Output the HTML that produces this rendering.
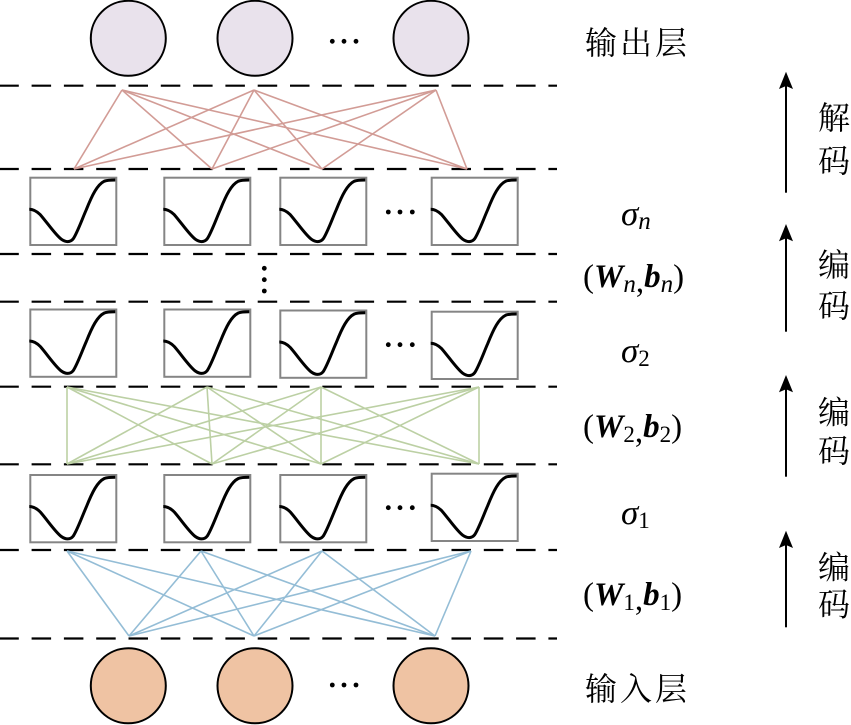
<!DOCTYPE html>
<html>
<head>
<meta charset="utf-8">
<style>
  html, body { margin: 0; padding: 0; background: #ffffff; }
  svg { display: block; }
  .m { font-family: "Liberation Serif", "Noto Serif CJK SC", serif; font-size: 33px; fill: #000; }
  .bi { font-weight: bold; font-style: italic; }
  .i { font-style: italic; }
  .cj { font-family: "Liberation Serif", "Noto Serif CJK SC", serif; font-size: 32px; fill: #000; }
</style>
</head>
<body>
<svg width="851" height="725" viewBox="0 0 851 725" xmlns="http://www.w3.org/2000/svg">
  <rect x="0" y="0" width="851" height="725" fill="#ffffff"/>

  <!-- dashed separators -->
  <g stroke="#000" stroke-width="2.2" stroke-dasharray="19.5 12.8" stroke-dashoffset="0.7" fill="none">
    <line x1="0" y1="85.7" x2="557" y2="85.7"/>
    <line x1="0" y1="169" x2="557" y2="169"/>
    <line x1="0" y1="254" x2="557" y2="254"/>
    <line x1="0" y1="301.7" x2="557" y2="301.7"/>
    <line x1="0" y1="386.7" x2="557" y2="386.7"/>
    <line x1="0" y1="464.3" x2="557" y2="464.3"/>
    <line x1="0" y1="550" x2="557" y2="550"/>
    <line x1="0" y1="638.5" x2="557" y2="638.5"/>
  </g>

  <!-- output circles -->
  <g fill="#e9e2ec" stroke="#000" stroke-width="2">
    <circle cx="128.3" cy="38.3" r="37.5"/>
    <circle cx="255" cy="38.3" r="37.5"/>
    <circle cx="431" cy="38.3" r="37.5"/>
  </g>
  <g fill="#000">
    <circle cx="332.3" cy="41.3" r="2.4"/>
    <circle cx="344" cy="41.3" r="2.4"/>
    <circle cx="356" cy="41.3" r="2.4"/>
  </g>

  <!-- input circles -->
  <g fill="#efc3a3" stroke="#000" stroke-width="2">
    <circle cx="128.3" cy="685.8" r="37.5"/>
    <circle cx="255" cy="685.8" r="37.5"/>
    <circle cx="431" cy="685.8" r="37.5"/>
  </g>
  <g fill="#000">
    <circle cx="332.3" cy="685" r="2.4"/>
    <circle cx="344" cy="685" r="2.4"/>
    <circle cx="356" cy="685" r="2.4"/>
  </g>

  <!-- red (decoder) connections -->
  <g stroke="#d29c96" stroke-width="1.6" fill="none">
    <line x1="122" y1="90" x2="74" y2="169"/>
    <line x1="122" y1="90" x2="212" y2="169"/>
    <line x1="122" y1="90" x2="322" y2="169"/>
    <line x1="122" y1="90" x2="467" y2="169"/>
    <line x1="254" y1="90" x2="74" y2="169"/>
    <line x1="254" y1="90" x2="212" y2="169"/>
    <line x1="254" y1="90" x2="322" y2="169"/>
    <line x1="254" y1="90" x2="467" y2="169"/>
    <line x1="436" y1="90" x2="74" y2="169"/>
    <line x1="436" y1="90" x2="212" y2="169"/>
    <line x1="436" y1="90" x2="322" y2="169"/>
    <line x1="436" y1="90" x2="467" y2="169"/>
  </g>

  <!-- green connections -->
  <g stroke="#bcd0a4" stroke-width="1.6" fill="none">
    <line x1="67" y1="387" x2="67" y2="464"/>
    <line x1="67" y1="387" x2="212" y2="464"/>
    <line x1="67" y1="387" x2="321" y2="464"/>
    <line x1="67" y1="387" x2="479" y2="464"/>
    <line x1="207" y1="387" x2="67" y2="464"/>
    <line x1="207" y1="387" x2="212" y2="464"/>
    <line x1="207" y1="387" x2="321" y2="464"/>
    <line x1="207" y1="387" x2="479" y2="464"/>
    <line x1="321" y1="387" x2="67" y2="464"/>
    <line x1="321" y1="387" x2="212" y2="464"/>
    <line x1="321" y1="387" x2="321" y2="464"/>
    <line x1="321" y1="387" x2="479" y2="464"/>
    <line x1="479" y1="387" x2="67" y2="464"/>
    <line x1="479" y1="387" x2="212" y2="464"/>
    <line x1="479" y1="387" x2="321" y2="464"/>
    <line x1="479" y1="387" x2="479" y2="464"/>
  </g>

  <!-- blue connections -->
  <g stroke="#94bdd6" stroke-width="1.6" fill="none">
    <line x1="67" y1="551" x2="129" y2="636"/>
    <line x1="67" y1="551" x2="254" y2="636"/>
    <line x1="67" y1="551" x2="435" y2="636"/>
    <line x1="201" y1="551" x2="129" y2="636"/>
    <line x1="201" y1="551" x2="254" y2="636"/>
    <line x1="201" y1="551" x2="435" y2="636"/>
    <line x1="322" y1="551" x2="129" y2="636"/>
    <line x1="322" y1="551" x2="254" y2="636"/>
    <line x1="322" y1="551" x2="435" y2="636"/>
    <line x1="471" y1="551" x2="129" y2="636"/>
    <line x1="471" y1="551" x2="254" y2="636"/>
    <line x1="471" y1="551" x2="435" y2="636"/>
  </g>

  <!-- activation boxes -->
  <defs>
    <g id="act">
      <rect x="1" y="1" width="86" height="67.3" fill="#fff" stroke="#858585" stroke-width="2"/>
      <path d="M0,32.5 C4,32.5 7,34 11,38 C18,46 26,58 32,62.5 C36,65.5 41,66 44,62 C48,56 53,42 57,33 C63,18 68,8 75,4.5 C78,3.3 81,3.3 86,3.3" fill="none" stroke="#000" stroke-width="3"/>
    </g>
  </defs>
  <!-- row 1 -->
  <use href="#act" x="29.3" y="176.7"/>
  <use href="#act" x="163.3" y="176.7"/>
  <use href="#act" x="279.3" y="176.7"/>
  <use href="#act" x="430.7" y="176.7"/>
  <!-- row 2 -->
  <use href="#act" x="29.3" y="308.5"/>
  <use href="#act" x="163.3" y="308.5"/>
  <use href="#act" x="279.3" y="309.5"/>
  <use href="#act" x="430.7" y="310.7"/>
  <!-- row 3 -->
  <use href="#act" x="29.3" y="474"/>
  <use href="#act" x="163.3" y="474"/>
  <use href="#act" x="279.3" y="474"/>
  <use href="#act" x="430.7" y="472.7"/>

  <!-- row ellipses -->
  <g fill="#000">
    <circle cx="388.3" cy="212" r="2.4"/><circle cx="400" cy="212" r="2.4"/><circle cx="412.3" cy="212" r="2.4"/>
    <circle cx="388.3" cy="344.7" r="2.4"/><circle cx="400" cy="344.7" r="2.4"/><circle cx="412.3" cy="344.7" r="2.4"/>
    <circle cx="388.3" cy="507.7" r="2.4"/><circle cx="400" cy="507.7" r="2.4"/><circle cx="412.3" cy="507.7" r="2.4"/>
    <!-- vertical dots -->
    <circle cx="264.3" cy="268.3" r="2.4"/><circle cx="264.3" cy="279.7" r="2.4"/><circle cx="264.3" cy="291" r="2.4"/>
  </g>

  <!-- layer labels -->
  <text class="cj" x="585" y="54" textLength="102" lengthAdjust="spacing">输出层</text>
  <text class="cj" x="585" y="700" textLength="102" lengthAdjust="spacing">输入层</text>

  <!-- math labels -->
  <text class="m" x="621" y="225" style="font-size:35px"><tspan class="i">σ</tspan><tspan class="i" font-size="25" dy="4">n</tspan></text>
  <text class="m" x="583" y="287">(<tspan class="bi">W</tspan><tspan class="i" font-size="25" dy="5">n</tspan>,<tspan class="bi" dy="-5">b</tspan><tspan class="i" font-size="25" dy="5">n</tspan><tspan dy="-5">)</tspan></text>

  <text class="m" x="621" y="362" style="font-size:35px"><tspan class="i">σ</tspan><tspan font-size="23" dy="4">2</tspan></text>
  <text class="m" x="583" y="437">(<tspan class="bi">W</tspan><tspan font-size="23" dy="5">2</tspan>,<tspan class="bi" dy="-5">b</tspan><tspan font-size="23" dy="5">2</tspan><tspan dy="-5">)</tspan></text>

  <text class="m" x="621" y="524" style="font-size:35px"><tspan class="i">σ</tspan><tspan font-size="23" dy="4">1</tspan></text>
  <text class="m" x="583" y="605">(<tspan class="bi">W</tspan><tspan font-size="23" dy="5">1</tspan>,<tspan class="bi" dy="-5">b</tspan><tspan font-size="23" dy="5">1</tspan><tspan dy="-5">)</tspan></text>

  <!-- arrows -->
  <g stroke="#000" stroke-width="2">
    <line x1="786" y1="84" x2="786" y2="192.7"/>
    <line x1="786" y1="236" x2="786" y2="331.7"/>
    <line x1="786" y1="387" x2="786" y2="476.7"/>
    <line x1="786" y1="543" x2="786" y2="627.3"/>
  </g>
  <g fill="#000">
    <polygon points="786,71.7 779,89 786,86 793,89"/>
    <polygon points="786,224 779,241.3 786,238.3 793,241.3"/>
    <polygon points="786,375 779,392.3 786,389.3 793,392.3"/>
    <polygon points="786,530.7 779,548 786,545 793,548"/>
  </g>

  <!-- side labels -->
  <text class="cj" x="818" y="129">解</text>
  <text class="cj" x="818" y="172">码</text>
  <text class="cj" x="818" y="276">编</text>
  <text class="cj" x="818" y="317">码</text>
  <text class="cj" x="818" y="423.5">编</text>
  <text class="cj" x="818" y="462">码</text>
  <text class="cj" x="818" y="578.7">编</text>
  <text class="cj" x="818" y="615.3">码</text>
</svg>
</body>
</html>
